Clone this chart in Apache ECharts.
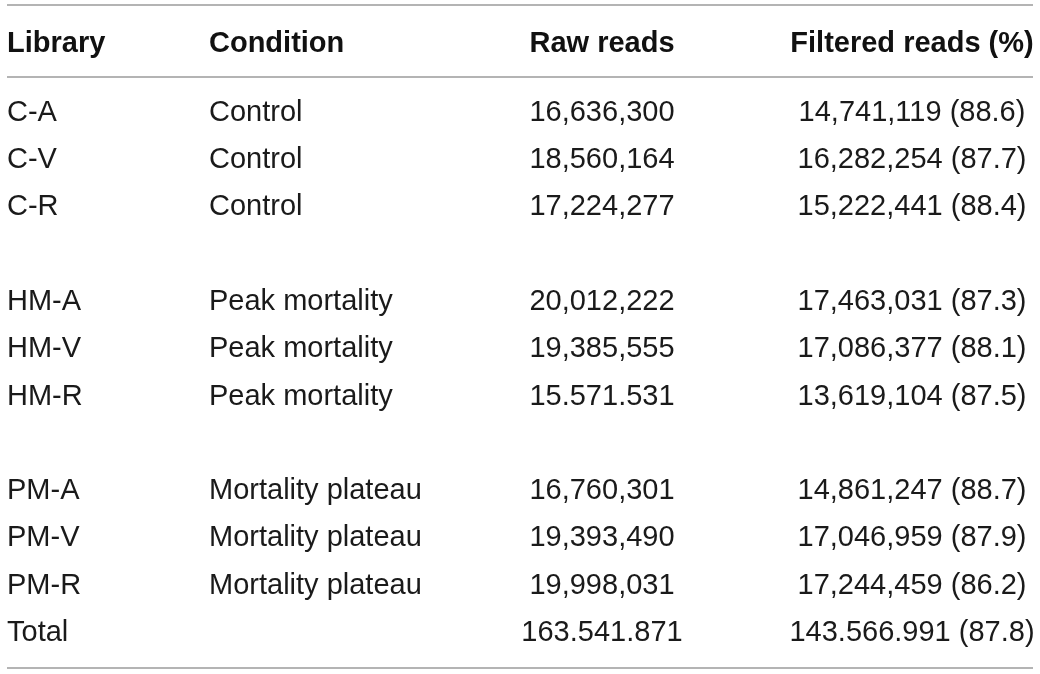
<!DOCTYPE html>
<html>
<head>
<meta charset="utf-8">
<script src="https://cdn.jsdelivr.net/npm/echarts@6/dist/echarts.min.js"></script>
<style>
  html, body { margin: 0; padding: 0; background: #fff; }
  #chart { width: 1040px; height: 674px; }
</style>
</head>
<body>
<div id="chart"></div>
<script>
// table contents, one entry per row slot (null = blank spacer row)
const headers = ['Library', 'Condition', 'Raw reads', 'Filtered reads (%)'];
const libraries = ['C-A', 'C-V', 'C-R', null, 'HM-A', 'HM-V', 'HM-R', null, 'PM-A', 'PM-V', 'PM-R', 'Total'];
const conditions = ['Control', 'Control', 'Control', null,
  'Peak mortality', 'Peak mortality', 'Peak mortality', null,
  'Mortality plateau', 'Mortality plateau', 'Mortality plateau', ''];
const rawReads = ['16,636,300', '18,560,164', '17,224,277', null,
  '20,012,222', '19,385,555', '15.571.531', null,
  '16,760,301', '19,393,490', '19,998,031', '163.541.871'];
const filteredReads = ['14,741,119 (88.6)', '16,282,254 (87.7)', '15,222,441 (88.4)', null,
  '17,463,031 (87.3)', '17,086,377 (88.1)', '13,619,104 (87.5)', null,
  '14,861,247 (88.7)', '17,046,959 (87.9)', '17,244,459 (86.2)', '143.566.991 (87.8)'];

// column anchors (x in axis units) and alignment
const columns = [
  { values: libraries, x: 0, align: 'left' },
  { values: conditions, x: 202, align: 'left' },
  { values: rawReads, x: 595, align: 'center' },
  { values: filteredReads, x: 905, align: 'center' }
];

const headerRow = -1.45;
const rules = [-2.28, -0.76, 11.74];

const textColor = '#1a1a1a';
const font = 'Liberation Sans, Helvetica, Arial, sans-serif';

const chart = echarts.init(document.getElementById('chart'));

const series = [];
columns.forEach((col, ci) => {
  const data = [];
  col.values.forEach((v, i) => {
    if (v) data.push([col.x, i, v]);
  });
  data.push({ value: [col.x, headerRow, headers[ci]], label: { fontWeight: 'bold', fontSize: 29, color: '#111' } });
  series.push({
    type: 'scatter',
    symbolSize: 0,
    silent: true,
    itemStyle: { opacity: 1 },
    data: data,
    label: {
      show: true,
      position: 'inside',
      align: col.align,
      verticalAlign: 'middle',
      formatter: p => p.value[2],
      color: textColor,
      fontFamily: font,
      fontSize: 29
    }
  });
});

// horizontal rules
series.push({
  type: 'scatter',
  data: [],
  markLine: {
    silent: true,
    symbol: 'none',
    label: { show: false },
    lineStyle: { color: '#9b9b9b', width: 1.5, type: 'solid' },
    data: rules.map(r => ({ yAxis: r }))
  }
});

chart.setOption({
  animation: false,
  grid: { left: 7, right: 7, top: 0, bottom: 0 },
  xAxis: { type: 'value', min: 0, max: 1026, show: false },
  yAxis: { type: 'value', inverse: true, min: -2.385, max: 11.865, show: false },
  series: series
});
</script>
</body>
</html>
